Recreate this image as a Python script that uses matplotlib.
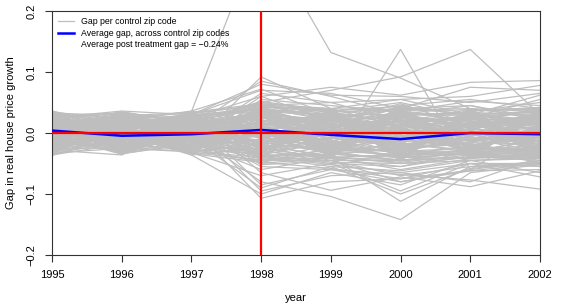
import numpy as np
import matplotlib
matplotlib.use("Agg")
import matplotlib.pyplot as plt
from matplotlib.lines import Line2D

plt.rcParams['font.family'] = ['Liberation Sans', 'DejaVu Sans']

years = [1995, 1996, 1997, 1998, 1999, 2000, 2001, 2002]
treat_year = 1998

# placebo gaps per control zip code, in thousandths
gaps_upper = [
    [36, 12, -20, 92, 40, 55, 30, 62],
    [-35, 20, 10, 85, 60, 30, 45, 20],
    [25, 36, 30, 80, 62, 60, 50, 65],
    [10, -30, 36, 72, 30, 45, 55, 40],
    [-20, 5, -10, 65, 50, 20, 35, 50],
    [30, -15, 25, 60, 20, 48, 10, 30],
    [0, 30, -30, 55, 45, 35, 52, 45],
    [-28, -36, 15, 52, 35, 50, 25, 55],
    [18, 25, 5, 48, 40, 10, 40, 35],
    [-10, 10, 33, 45, 25, 40, 45, 25],
    [33, -5, -25, 42, 38, 25, 15, 42],
    [5, 33, 20, 40, 10, 42, 30, 15],
    [-33, 15, -5, 38, 30, 5, 38, 38],
    [22, -25, 28, 36, 15, 35, 20, 10],
    [-15, 0, 12, 34, 32, 20, 5, 30],
    [28, 20, -15, 32, 20, 30, 32, 20],
]
gaps_middle = [
    [-5, -20, 30, 40, 5, 15, 25, 5],
    [12, 28, 0, 38, 25, -5, 10, 25],
    [-25, 8, -33, 35, 10, 25, 0, 15],
    [34, -10, 8, 32, 0, 10, 20, -5],
    [-8, 34, -20, 30, 20, -10, 5, 10],
    [15, -33, 22, 28, -5, 20, -10, 0],
    [-30, 18, 3, 25, 15, 0, 15, -15],
    [8, -8, -28, 22, -10, 5, -5, 5],
    [-18, 24, 18, 20, 5, -15, 0, -10],
    [26, -28, -8, 18, -15, -5, 10, -20],
    [-2, 4, 26, 15, 0, -20, -15, 0],
    [20, -18, -12, 12, -20, 0, -20, -8],
    [-22, 14, 6, 10, 8, -25, 5, -25],
    [3, -3, -35, 8, -8, -10, -25, 12],
    [30, 26, 24, 5, -25, -30, -10, -12],
    [-12, -14, 10, 3, -12, -35, -30, -30],
    [17, 6, -18, 0, -30, -18, -8, -18],
    [-26, -24, 34, -3, -18, -40, -35, -22],
    [6, 16, -4, -5, -35, -25, -18, -35],
    [1, -1, -3, 2, 1, 3, -2, 2],
    [-3, 7, 9, -2, 12, 8, 12, 18],
    [9, -9, -6, 6, -3, 12, 2, 8],
    [-11, 11, 1, -6, 3, -8, -12, -5],
    [13, -4, 15, 14, 12, 18, 22, 22],
    [-7, 19, -14, -14, -8, -22, 8, -14],
    [19, -21, 7, 24, 18, 28, -2, 3],
    [-17, -7, -19, -32, -16, -12, -20, -6],
]
gaps_core = [
    [3, 20, -12, 28, 10, -8, 18, 6],
    [-21, -9, 27, -18, 22, 14, -6, 24],
    [29, 2, -5, 12, -26, 30, 8, -16],
    [-9, 27, 17, -26, 4, -28, 26, 14],
    [16, -17, -29, 20, 28, -3, -22, -28],
    [-31, 9, 11, 4, -14, 22, 14, 30],
    [7, -27, 21, -20, 30, -32, -4, 4],
    [23, 15, -9, 30, -2, 10, -28, -20],
    [-13, -23, 31, -10, 16, -18, 28, 20],
    [31, 31, -21, 16, -30, 26, 0, -2],
    [-1, -13, 5, -30, 26, 2, -14, 28],
    [11, 1, -33, 26, -12, -30, 20, -24],
    [-25, 23, 13, -4, 6, 34, -26, 10],
    [21, -31, -1, 10, -22, -14, 12, 32],
    [-35, 17, 23, -24, 32, 16, -30, -12],
    [5, -5, -17, 34, 0, -36, 32, 16],
    [-19, 29, 3, -16, -28, 6, -10, -30],
    [27, -19, 29, 6, 14, -24, 16, 26],
    [-7, 7, -27, -34, -6, 28, -20, 0],
    [13, -29, 19, 24, 24, -6, 4, -26],
    [-29, 13, -7, -12, -20, 20, 24, 18],
    [35, -1, -23, 0, 34, -16, -32, -8],
    [-15, 25, 33, -28, -10, 32, 10, 22],
    [1, -33, -11, 18, 18, -26, -16, -18],
    [19, 11, 25, -6, -32, 12, 30, 34],
    [-23, -3, -19, 32, 8, -20, -8, -4],
    [9, 21, 7, -22, -24, 24, 22, 12],
    [-33, -25, -31, 14, 30, -10, -24, -32],
    [25, 33, 1, -14, -4, 4, 6, 28],
    [-11, -15, 35, 22, -16, -34, 18, -10],
    [17, 5, -15, -32, 20, 18, -30, 8],
    [-3, -35, 9, 2, -30, -2, 34, -22],
    [33, 19, -25, 26, 2, 30, -12, 20],
    [-27, -11, 17, -8, 26, -22, 2, -14],
    [7, 25, -3, 18, -18, 8, -34, 30],
    [-17, -21, 27, -26, 10, -32, 26, 2],
    [23, 9, -35, 8, -34, 26, -2, -28],
    [-5, -31, 13, 30, 22, -12, 14, 24],
    [15, 29, -13, -18, -8, 20, -22, -6],
    [-37, 3, 23, 12, 32, -28, 8, 16],
    [29, -17, -5, -36, -14, 14, 28, -20],
    [-9, 15, 31, 20, 14, -4, -18, 26],
    [11, -7, -21, -2, -26, 34, 20, -34],
    [-21, 33, 3, 28, 4, -18, -28, 12],
    [3, -23, 19, -30, 28, 10, 16, -2],
    [25, 13, -29, 4, -22, -30, -6, 32],
    [-31, -9, 7, -14, 16, 2, 32, -16],
    [13, 23, 29, 34, -2, 28, -14, 6],
]
gaps_swing = [
    [-30, 30, 20, 42, -36, 40, -38, 36],
    [32, -24, -30, -40, 38, -42, 36, -34],
    [-2, 10, -24, 44, 40, 36, 38, 40],
    [18, -12, 22, -44, -40, -44, -40, -38],
    [-24, 2, -10, 38, -38, 38, 40, -36],
    [34, 24, 14, -38, 36, -40, -42, 36],
    [-14, -28, 32, 46, 24, 42, -36, 38],
    [8, 18, -26, -46, -26, -38, 34, -40],
    [-36, -18, 6, 36, 40, -36, 30, 34],
    [22, 34, -6, -36, -36, 34, -38, -36],
    [-8, -4, 26, 40, -34, -44, 38, 40],
    [28, -34, -18, -42, 34, 40, -34, -38],
    [4, 28, 34, 48, 30, 30, 32, -30],
    [-26, 6, -34, -48, -30, -46, -30, 30],
    [16, -20, 10, 36, -40, 32, -40, 34],
    [-18, 22, -2, -34, 38, -34, 36, -32],
    [36, 0, -14, 50, 36, 44, 30, 36],
    [-4, -26, 28, -50, -40, -48, -36, -40],
    [12, 14, -30, 40, 28, -40, 26, 32],
    [-34, -14, 12, -40, -28, 38, -32, -34],
    [24, 32, 0, 30, -40, 28, 34, 28],
    [-16, -8, -20, -30, 40, -30, -30, -28],
    [6, 4, 18, 44, 34, -46, 36, 42],
    [-28, 26, -32, -44, -34, 46, -36, -42],
    [30, -30, 8, 34, -30, 34, 28, -40],
    [-12, 12, 24, -32, 30, -38, -28, 40],
    [20, -6, -8, 42, 20, 40, -40, 30],
    [-22, 20, 36, -42, -20, -42, 40, -30],
    [10, -16, -22, 32, 38, -34, 24, 38],
    [-32, 34, 16, -36, -38, 36, -24, -38],
    [14, -32, -4, 38, -24, 42, 30, -26],
    [-6, 8, 30, -38, 24, -40, -34, 26],
]
gaps_lower = [
    [-36, -6, 16, -8, -22, -30, -25, -28],
    [24, -22, -24, -10, -30, -35, -22, -30],
    [-6, 2, 2, -12, -28, -30, -35, -32],
    [14, -34, -16, -5, -35, -40, -28, -25],
    [-16, 22, 14, -15, -32, -45, -30, -38],
    [32, 10, -30, -18, -40, -35, -35, -30],
    [-24, -16, 20, -20, -38, -50, -40, -42],
    [2, 32, -2, -22, -45, -45, -40, -35],
    [20, -2, -36, -25, -42, -55, -30, -48],
    [-32, 12, 30, -28, -48, -50, -45, -40],
    [10, -26, 4, -30, -40, -60, -42, -35],
    [-14, 28, -22, -35, -50, -55, -38, -45],
    [27, -12, 12, -38, -52, -65, -50, -50],
    [-4, 20, -10, -40, -55, -62, -45, -42],
    [16, -30, 28, -45, -45, -70, -55, -48],
    [-20, 3, -26, -48, -58, -75, -50, -55],
    [8, 35, 16, -52, -45, -80, -60, -45],
    [-30, -12, 6, -55, -60, -68, -77, -92],
    [22, 16, -14, -60, -40, -112, -55, -52],
    [-10, -32, 32, -65, -94, -72, -88, -62],
    [4, 8, -32, -70, -50, -95, -50, -72],
    [-34, 30, 0, -80, -104, -142, -65, -52],
    [12, -20, 24, -85, -60, -80, -62, -60],
    [-2, 2, -8, -90, -55, -100, -58, -48],
    [35, -35, 18, -95, -70, -65, -80, -40],
    [-27, 14, -36, -100, -65, -85, -45, -65],
    [18, 0, 10, -107, -80, -75, -62, -50],
]
gaps_outliers = [
    [10, 22, 35, 330, 132, 90, 40, 25],
    [-5, 10, 20, 50, 70, 92, 137, 30],
    [15, -10, 5, 30, -40, 137, -60, 10],
    [0, 25, -15, 60, 75, 62, 83, 86],
    [-20, 5, 25, 45, 50, 55, 60, 78],
    [5, -15, 30, 70, 65, 40, 75, 70],
]

avg_gap = [0.004, -0.0045, -0.002, 0.005, -0.003, -0.010, 0.000, -0.002]
post_gap_pct = -0.24

fig = plt.figure(figsize=(5.66, 3.04), dpi=100)
ax = fig.add_axes([52 / 566, 49 / 304, 488 / 566, 244 / 304])

for group in (gaps_upper, gaps_middle, gaps_core, gaps_swing, gaps_lower,
              gaps_outliers):
    for g in group:
        ax.plot(years, np.array(g) / 1000, color='#BEBEBE', lw=0.9, zorder=1)

ax.plot(years, avg_gap, color='#0000FF', lw=1.8, zorder=3)
ax.axhline(0, color='#FF0000', lw=1.6, zorder=4)
ax.axvline(treat_year, color='#FF0000', lw=1.6, zorder=4)

ax.set_xlim(1995, 2002)
ax.set_ylim(-0.2, 0.2)
ax.set_xticks(years)
ax.set_yticks([-0.2, -0.1, 0.0, 0.1, 0.2])
ax.set_yticklabels(['\u22120.2', '\u22120.1', '0.0', '0.1', '0.2'],
                   rotation=90, va='center')
ax.tick_params(axis='both', labelsize=8, length=5, width=0.8,
               color='#333333', pad=6)
for s in ax.spines.values():
    s.set_color('#333333')
    s.set_linewidth(0.8)

ax.set_xlabel('year', fontsize=8, labelpad=9)
ax.set_ylabel('Gap in real house price growth', fontsize=8, labelpad=8)

handles = [Line2D([], [], color='#BEBEBE', lw=0.9),
           Line2D([], [], color='#0000FF', lw=1.8),
           Line2D([], [], color='none')]
labels = ['Gap per control zip code',
          'Average gap, across control zip codes',
          'Average post treatment gap = \u2212%.2f%%' % abs(post_gap_pct)]
ax.legend(handles, labels, loc='upper left', frameon=False, fontsize=6.3,
          handlelength=1.8, handletextpad=0.8, labelspacing=0.3,
          borderpad=0.3, borderaxespad=0.4)

fig.savefig('out.png', dpi=100)
